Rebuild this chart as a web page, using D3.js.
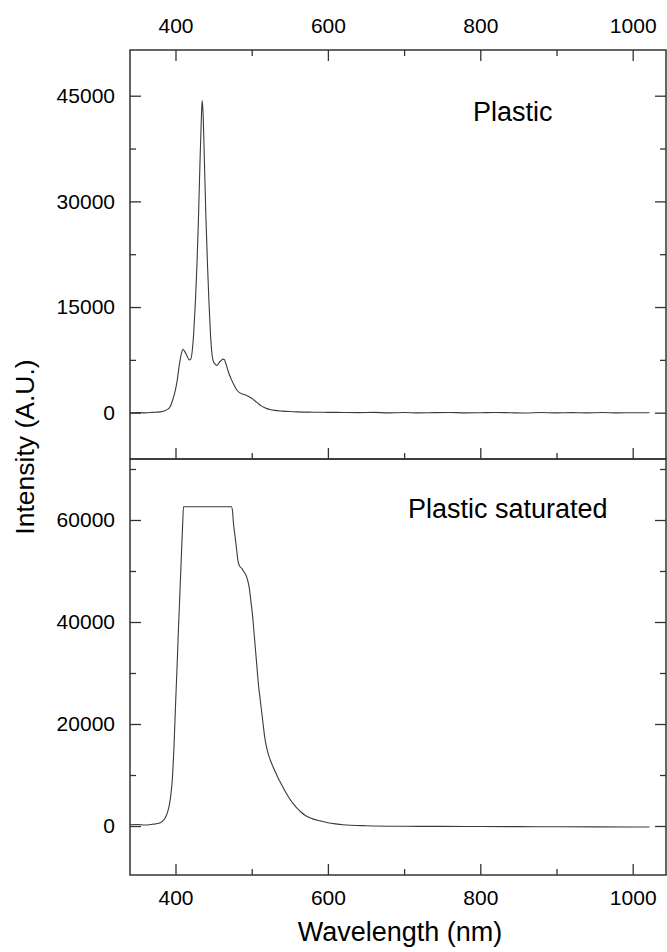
<!DOCTYPE html>
<html>
<head>
<meta charset="utf-8">
<script src="https://cdn.jsdelivr.net/npm/d3@7"></script>
<style>
  html, body { margin: 0; padding: 0; background: #fff; }
  svg { display: block; }
  text { font-family: "Liberation Sans", Arial, sans-serif; fill: #000; }
</style>
</head>
<body>
<svg id="chart" width="667" height="952"></svg>
<script>
// Emission spectra of a plastic sample (wavelength in nm, intensity in A.U.)
const plasticWavelength = [
  340, 350, 360, 370, 380, 385, 390, 393, 396, 399, 402, 405, 408, 410, 412, 415, 418, 420,
  422, 424, 426, 428, 430, 432, 434, 435, 436, 438, 440, 442, 444, 446, 448, 450, 452, 454,
  456, 458, 460, 462, 464, 466, 468, 470, 473, 476, 480, 484, 488, 492, 496, 500, 504, 508,
  512, 516, 520, 525, 530, 540, 550, 560, 580, 600, 620, 640, 660, 680, 700, 720, 740, 760,
  780, 800, 820, 840, 860, 880, 900, 920, 940, 960, 980, 1000, 1022
];
const plasticIntensity = [
  0, 30, -20, 40, 120, 250, 500, 850, 1700, 2800, 4400, 6800, 8500, 9000, 8700, 8100, 7500, 7600,
  8800, 11500, 15500, 20500, 27000, 35000, 42000, 44300, 43000, 35500, 27500, 21000, 15500, 11000, 8200, 7200, 6900, 6700,
  6900, 7200, 7400, 7600, 7550, 7000, 6300, 5600, 4800, 4100, 3300, 2850, 2650, 2500, 2300, 2050, 1700, 1350,
  1000, 760, 580, 430, 330, 230, 160, 110, 70, 50, 30, 10, 40, -20, 20, -30, 10, 30,
  -20, 0, 30, -10, -40, 20, -30, 10, -20, 20, -30, 0, -10
];

const saturatedWavelength = [
  340, 350, 360, 370, 375, 380, 384, 387, 390, 392, 394, 396, 398, 400, 402, 404, 406, 408,
  409.5, 410.5, 420, 440, 460, 473.5, 475, 476, 478, 480, 482, 484, 487, 490, 493, 495, 497, 499,
  501, 503, 505, 507, 509, 511, 513, 515, 517, 519, 522, 525, 528, 532, 536, 540, 545, 550,
  555, 560, 565, 570, 575, 580, 590, 600, 610, 620, 630, 650, 700, 750, 800, 850, 900, 950,
  1000, 1022
];
const saturatedIntensity = [
  250, 300, 200, 350, 450, 650, 1100, 1700, 2900, 4200, 6200, 9500, 15500, 23500, 31000, 39000, 46500, 54000,
  59500, 62600, 62600, 62600, 62600, 62600, 61500, 59500, 57000, 54500, 52000, 51000, 50500, 49800, 49000, 48000, 46500, 44000,
  41500, 38000, 34500, 31000, 27500, 25000, 22500, 20000, 17500, 15800, 14000, 12700, 11600, 10300, 9000, 7900, 6500, 5300,
  4300, 3400, 2700, 2100, 1700, 1400, 1000, 650, 420, 250, 150, 50, -50, -80, -100, -120, -150, -170,
  -200, -200
];

// Axis ticks
const xTicks = [400, 600, 800, 1000];
const xMinorTicks = [500, 700, 900];
const topYTicks = [0, 15000, 30000, 45000];
const topYMinorTicks = [7500, 22500, 37500];
const bottomYTicks = [0, 20000, 40000, 60000];
const bottomYMinorTicks = [10000, 30000, 50000, 70000];

const panelLabels = ["Plastic", "Plastic saturated"];
const xTitle = "Wavelength (nm)";
const yTitle = "Intensity (A.U.)";

const svg = d3.select("#chart");
const left = 130, right = 666;
const topPanel = { y0: 50, y1: 459 };
const bottomPanel = { y0: 459, y1: 875 };
const frameColor = "#333";
const majorLen = 11, minorLen = 6;

const x = d3.scaleLinear().domain([340.3, 1043.7]).range([left, right]);
const yTop = d3.scaleLinear().domain([-6573, 51490]).range([topPanel.y1, topPanel.y0]);
const yBottom = d3.scaleLinear().domain([-9608, 71960]).range([bottomPanel.y1, bottomPanel.y0]);

function styleAxis(g, fontSize) {
  g.select(".domain").remove();
  g.selectAll(".tick line").attr("stroke", frameColor).attr("stroke-width", 1.3);
  g.selectAll(".tick text")
    .attr("fill", "#000")
    .style("font-size", fontSize + "px")
    .style("font-family", '"Liberation Sans", Arial, sans-serif');
}

function drawPanel(panel, y, yMajor, yMinor, showTopAxis, showBottomLabels) {
  const g = svg.append("g");

  // Left axis (inward ticks, labels outside)
  g.append("g").attr("transform", `translate(${left},0)`)
    .call(d3.axisLeft(y).tickValues(yMajor).tickSize(-majorLen).tickPadding(15).tickFormat(d3.format("d")))
    .call(a => styleAxis(a, 21));
  g.append("g").attr("transform", `translate(${left},0)`)
    .call(d3.axisLeft(y).tickValues(yMinor).tickSize(-minorLen).tickFormat(""))
    .call(a => styleAxis(a, 21));

  // Right axis (ticks only)
  g.append("g").attr("transform", `translate(${right},0)`)
    .call(d3.axisRight(y).tickValues(yMajor).tickSize(-majorLen).tickFormat(""))
    .call(a => styleAxis(a, 21));
  g.append("g").attr("transform", `translate(${right},0)`)
    .call(d3.axisRight(y).tickValues(yMinor).tickSize(-minorLen).tickFormat(""))
    .call(a => styleAxis(a, 21));

  // Bottom axis
  g.append("g").attr("transform", `translate(0,${panel.y1})`)
    .call(d3.axisBottom(x).tickValues(xTicks).tickSize(-majorLen).tickPadding(15)
      .tickFormat(showBottomLabels ? d3.format("d") : ""))
    .call(a => styleAxis(a, 21));
  g.append("g").attr("transform", `translate(0,${panel.y1})`)
    .call(d3.axisBottom(x).tickValues(xMinorTicks).tickSize(-minorLen).tickFormat(""))
    .call(a => styleAxis(a, 21));

  // Top axis
  if (showTopAxis) {
    g.append("g").attr("transform", `translate(0,${panel.y0})`)
      .call(d3.axisTop(x).tickValues(xTicks).tickSize(-majorLen).tickPadding(17).tickFormat(d3.format("d")))
      .call(a => styleAxis(a, 21));
    g.append("g").attr("transform", `translate(0,${panel.y0})`)
      .call(d3.axisTop(x).tickValues(xMinorTicks).tickSize(-minorLen).tickFormat(""))
      .call(a => styleAxis(a, 21));
  }

  // Frame
  g.append("rect")
    .attr("x", left).attr("y", panel.y0)
    .attr("width", right - left).attr("height", panel.y1 - panel.y0)
    .attr("fill", "none").attr("stroke", frameColor).attr("stroke-width", 1.5);
}

drawPanel(topPanel, yTop, topYTicks, topYMinorTicks, true, false);
drawPanel(bottomPanel, yBottom, bottomYTicks, bottomYMinorTicks, false, true);

// Spectra
const topLine = d3.line()
  .x((d, i) => x(plasticWavelength[i]))
  .y(d => yTop(d))
  .curve(d3.curveMonotoneX);
const bottomLine = d3.line()
  .x((d, i) => x(saturatedWavelength[i]))
  .y(d => yBottom(d))
  .curve(d3.curveMonotoneX);

svg.append("path").datum(plasticIntensity)
  .attr("d", topLine).attr("fill", "none")
  .attr("stroke", "#3a3a3a").attr("stroke-width", 1.1);
svg.append("path").datum(saturatedIntensity)
  .attr("d", bottomLine).attr("fill", "none")
  .attr("stroke", "#3a3a3a").attr("stroke-width", 1.1);

// Panel labels
svg.append("text").attr("x", 473).attr("y", 121)
  .style("font-size", "27px").text(panelLabels[0]);
svg.append("text").attr("x", 408).attr("y", 518)
  .style("font-size", "27px").text(panelLabels[1]);

// Axis titles
svg.append("text").attr("x", 400).attr("y", 941)
  .attr("text-anchor", "middle").style("font-size", "27px").text(xTitle);
svg.append("text")
  .attr("transform", "translate(34,447) rotate(-90)")
  .attr("text-anchor", "middle").style("font-size", "26.5px").text(yTitle);
</script>
</body>
</html>
